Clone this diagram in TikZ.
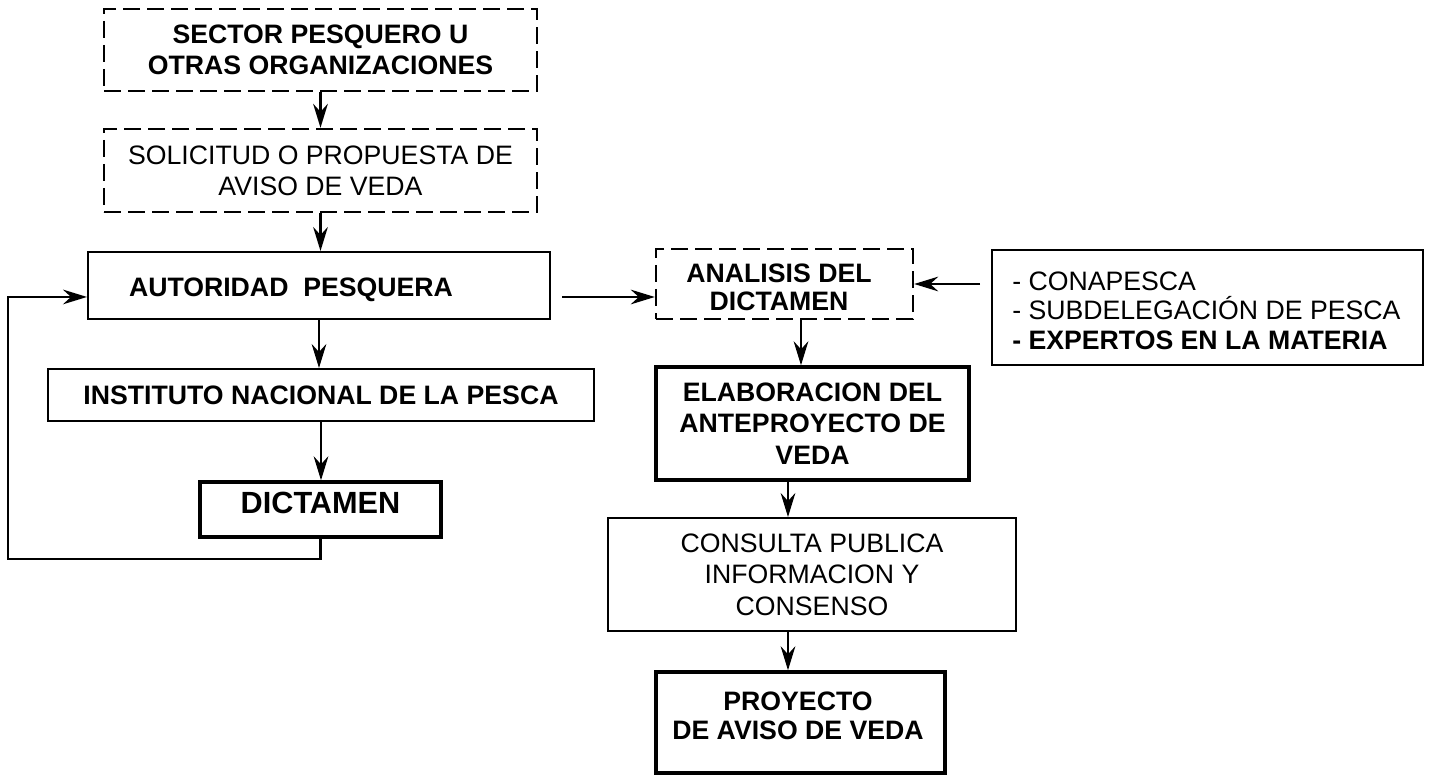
\documentclass[tikz,border=0pt]{standalone}
\usepackage{fontspec}
\setmainfont{Liberation Sans}
\usetikzlibrary{arrows.meta, positioning}

\begin{document}
\begin{tikzpicture}[
      x=0.75pt, y=-0.75pt,
      font=\fontsize{20}{23.5}\selectfont,
      >={Stealth[length=18pt, width=11pt, inset=6pt]},
      box/.style={
        rectangle,
        draw,
        line width=1.5pt,
        align=center,
        inner sep=0pt
      },
      dashbox/.style={box, line width=1.8pt, dash pattern=on 13pt off 5pt},
      thickbox/.style={box, line width=2.6pt},
      bold/.style={font=\fontsize{20}{23}\selectfont\bfseries},
      arr/.style={->, line width=1.8pt}
    ]
    \useasboundingbox (0,0) rectangle (1431,777);

    % left column
    \node[dashbox, bold, minimum width=324.75pt, minimum height=61.5pt] (sec) at (320.5,50)
      {SECTOR PESQUERO U\\OTRAS ORGANIZACIONES};
    \node[dashbox, minimum width=324.75pt, minimum height=62.25pt] (sol) at (320.5,170.5)
      {SOLICITUD O PROPUESTA DE\\AVISO DE VEDA};
    \node[box, minimum width=346.5pt, minimum height=50.25pt] (aut) at (319,285.5) {};
    \node[bold] (autt) at (291,290) {AUTORIDAD\ \ PESQUERA};
    \node[box, bold, minimum width=409.5pt, minimum height=39pt] (ins) at (321,395)
      {INSTITUTO NACIONAL DE LA PESCA};
    \node[thickbox, minimum width=180.75pt, minimum height=41.25pt] (dic) at (320.5,509.5) {};
    \node[font=\fontsize{23}{26}\selectfont\bfseries] (dict) at (320.5,503) {DICTAMEN};
    \coordinate (fb) at (8,559);

    % right column
    \node[dashbox, minimum width=192.75pt, minimum height=52.5pt] (ana) at (784.5,284) {};
    \node[font=\fontsize{20}{21}\selectfont\bfseries, align=center, inner sep=0pt] (anat) at (779,287)
      {ANALISIS DEL\\DICTAMEN};
    \node[box, minimum width=323.25pt, minimum height=86.25pt] (org) at (1207.5,307.5) {};
    \node[font=\fontsize{20}{22}\selectfont, align=left, anchor=west, inner sep=0pt] (orgt) at (1012,310.5)
      {- CONAPESCA\\- SUBDELEGACIÓN DE PESCA\\\textbf{- EXPERTOS EN LA MATERIA}};
    \node[thickbox, font=\fontsize{20}{23.5}\selectfont\bfseries, minimum width=234.75pt,
      minimum height=84.75pt] (ela) at (812.5,423.5)
      {ELABORACION DEL\\ANTEPROYECTO DE\\VEDA};
    \node[box, minimum width=306pt, minimum height=84.75pt] (con) at (812,574.5)
      {CONSULTA PUBLICA\\INFORMACION Y\\CONSENSO};
    \node[thickbox, minimum width=216.75pt, minimum height=75.75pt] (pro) at (800.5,722.5) {};
    \node[font=\fontsize{20}{22}\selectfont\bfseries, align=center] (prot) at (798,715.5)
      {PROYECTO\\DE AVISO DE VEDA};

    % connectors
    \draw[arr] (sec) -- (sol);
    \draw[arr] (sol.south) -- (sol.south |- aut.north);
    \draw[arr] (aut.south) -- (aut.south |- ins.north);
    \draw[arr] (ins.south) -- (ins.south |- dic.north);
    \draw[arr] (dic.south) |- (fb) |- ([yshift=-8.6pt]aut.west);
    \path (aut.east) ++(11,11.5) coordinate (a1);
    \draw[arr] (a1) -- (a1 -| ana.west);
    \path (org.west |- ana.east) ++(-11,0) coordinate (o1);
    \draw[arr] (o1) -- (ana.east);
    \path (ana.south) ++(16.5,0) coordinate (a2);
    \draw[arr] (a2) -- (a2 |- ela.north);
    \path (ela.south) ++(-24.5,0) coordinate (e1);
    \draw[arr] (e1) -- (e1 |- con.north);
    \draw[arr] (e1 |- con.south) -- (e1 |- pro.north);
  \end{tikzpicture}
\end{document}
